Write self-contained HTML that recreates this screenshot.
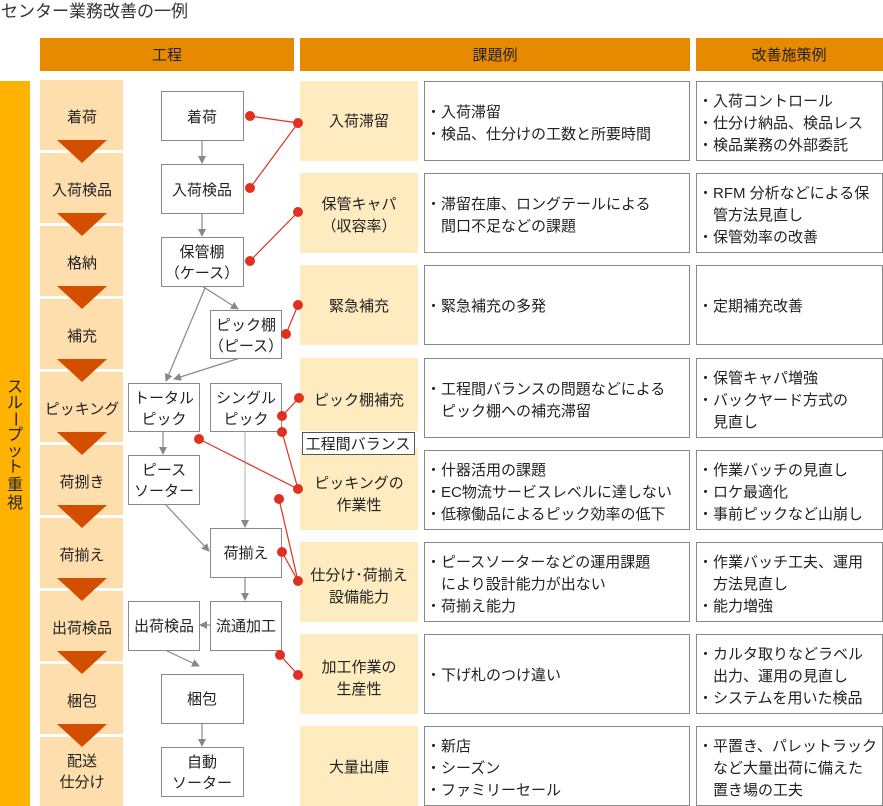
<!DOCTYPE html>
<html><head><meta charset="utf-8"><style>
html,body{margin:0;padding:0;background:#fff;}
svg{display:block;font-family:"Liberation Sans","Noto Sans CJK JP",sans-serif;}
</style></head><body>
<svg width="883" height="806" viewBox="0 0 883 806" xmlns="http://www.w3.org/2000/svg">
<defs>
<marker id="ar" markerWidth="8" markerHeight="8" refX="7" refY="4" orient="auto" markerUnits="userSpaceOnUse"><path d="M0,0 L8,4 L0,8 z" fill="#888"/></marker>
</defs>
<text x="1" y="17" font-size="17" fill="#333">センター業務改善の一例</text>
<!-- headers -->
<rect x="40" y="38" width="254" height="33" fill="#E88A00"/>
<rect x="300" y="38" width="390" height="33" fill="#E88A00"/>
<rect x="696" y="38" width="187" height="33" fill="#E88A00"/>
<g font-size="15" fill="#222" text-anchor="middle">
<text x="167" y="60">工程</text><text x="495" y="60">課題例</text><text x="789" y="60">改善施策例</text>
</g>
<!-- left bar -->
<rect x="0" y="81" width="30" height="725" fill="#FFB300"/>
<g font-size="16" fill="#222" text-anchor="middle">
<text x="15" y="392">ス</text><text x="15" y="408">ル</text><text x="15" y="424" transform="rotate(90 15 419)">ー</text><text x="15" y="440">プ</text><text x="15" y="456">ッ</text><text x="15" y="472">ト</text><text x="15" y="490">重</text><text x="15" y="508">視</text>
</g>
<!-- process cells -->
<g fill="#FFDEAE">
<rect x="40" y="80" width="83" height="70"/><rect x="40" y="153" width="83" height="70"/><rect x="40" y="226" width="83" height="70"/><rect x="40" y="299" width="83" height="70"/><rect x="40" y="372" width="83" height="70"/><rect x="40" y="445" width="83" height="70"/><rect x="40" y="518" width="83" height="70"/><rect x="40" y="591" width="83" height="70"/><rect x="40" y="664" width="83" height="70"/><rect x="40" y="737" width="83" height="69"/>
</g>
<g fill="#D44E00">
<path d="M57,140 L107,140 L82,163 z"/><path d="M57,213 L107,213 L82,236 z"/><path d="M57,286 L107,286 L82,309 z"/><path d="M57,359 L107,359 L82,382 z"/><path d="M57,432 L107,432 L82,455 z"/><path d="M57,505 L107,505 L82,528 z"/><path d="M57,578 L107,578 L82,601 z"/><path d="M57,651 L107,651 L82,674 z"/><path d="M57,724 L107,724 L82,747 z"/>
</g>
<g font-size="15" fill="#222" text-anchor="middle">
<text x="82" y="122">着荷</text><text x="82" y="195">入荷検品</text><text x="82" y="268">格納</text><text x="82" y="341">補充</text><text x="82" y="414">ピッキング</text><text x="82" y="487">荷捌き</text><text x="82" y="560">荷揃え</text><text x="82" y="633">出荷検品</text><text x="82" y="706">梱包</text><text x="82" y="766">配送</text><text x="82" y="787">仕分け</text>
</g>
<!-- grey connectors -->
<g stroke="#888" stroke-width="1.2" fill="none" marker-end="url(#ar)">
<line x1="202" y1="140" x2="202" y2="163"/>
<line x1="202" y1="213" x2="202" y2="236"/>
<line x1="202" y1="286" x2="238" y2="309"/>
<line x1="205" y1="288" x2="166" y2="381"/>
<line x1="240" y1="358" x2="174" y2="379"/>
<line x1="163" y1="431" x2="163" y2="454"/>
<line x1="245" y1="431" x2="245" y2="527" stroke="#bbb"/>
<line x1="165" y1="504" x2="209" y2="551"/>
<line x1="245" y1="577" x2="245" y2="600"/>
<line x1="210" y1="625" x2="200" y2="625"/>
<line x1="165" y1="650" x2="199" y2="666"/>
<line x1="202" y1="723" x2="202" y2="746"/>
</g>
<!-- flow boxes -->
<g fill="#fff" stroke="#888" stroke-width="1">
<rect x="161.5" y="91.5" width="82" height="49"/><rect x="161.5" y="164.5" width="82" height="49"/><rect x="161.5" y="237.5" width="82" height="49"/>
<rect x="210.5" y="310.5" width="71" height="48"/><rect x="128.5" y="383.5" width="71" height="48"/><rect x="210.5" y="383.5" width="71" height="48"/>
<rect x="128.5" y="455.5" width="71" height="49"/><rect x="210.5" y="528.5" width="71" height="49"/><rect x="128.5" y="601.5" width="71" height="49"/><rect x="210.5" y="601.5" width="71" height="49"/>
<rect x="161.5" y="674.5" width="82" height="49"/><rect x="161.5" y="747.5" width="82" height="49"/>
</g>
<g font-size="15" fill="#222" text-anchor="middle">
<text x="202" y="122">着荷</text><text x="202" y="195">入荷検品</text>
<text x="202" y="257">保管棚</text><text x="202" y="278">（ケース）</text>
<text x="246" y="330">ピック棚</text><text x="246" y="351">（ピース）</text>
<text x="164" y="403">トータル</text><text x="164" y="424">ピック</text>
<text x="246" y="403">シングル</text><text x="246" y="424">ピック</text>
<text x="164" y="475">ピース</text><text x="164" y="496">ソーター</text>
<text x="246" y="558">荷揃え</text><text x="164" y="631">出荷検品</text><text x="246" y="631">流通加工</text>
<text x="202" y="704">梱包</text><text x="202" y="767">自動</text><text x="202" y="788">ソーター</text>
</g>
<!-- issue columns -->
<g fill="#FFEBC0">
<rect x="300" y="81" width="118" height="80"/><rect x="300" y="173" width="118" height="80"/><rect x="300" y="265" width="118" height="80"/><rect x="300" y="358" width="118" height="73"/><rect x="300" y="449" width="118" height="81"/><rect x="300" y="542" width="118" height="80"/><rect x="300" y="634" width="118" height="80"/><rect x="300" y="726" width="118" height="80"/>
</g>
<g fill="#fff" stroke="#888" stroke-width="1">
<rect x="424.5" y="81.5" width="265" height="79"/><rect x="424.5" y="173.5" width="265" height="79"/><rect x="424.5" y="265.5" width="265" height="79"/><rect x="424.5" y="358.5" width="265" height="79"/><rect x="424.5" y="450.5" width="265" height="79"/><rect x="424.5" y="542.5" width="265" height="79"/><rect x="424.5" y="634.5" width="265" height="79"/><rect x="424.5" y="726.5" width="265" height="79"/>
<rect x="696.5" y="81.5" width="186" height="79"/><rect x="696.5" y="173.5" width="186" height="79"/><rect x="696.5" y="265.5" width="186" height="79"/><rect x="696.5" y="358.5" width="186" height="79"/><rect x="696.5" y="450.5" width="186" height="79"/><rect x="696.5" y="542.5" width="186" height="79"/><rect x="696.5" y="634.5" width="186" height="79"/><rect x="696.5" y="726.5" width="186" height="79"/>
<rect x="302.5" y="432.5" width="112" height="22" stroke="#555"/>
</g>
<g font-size="15" fill="#222" text-anchor="middle">
<text x="359" y="126">入荷滞留</text>
<text x="359" y="209">保管キャパ</text><text x="359" y="231">（収容率）</text>
<text x="359" y="311">緊急補充</text>
<text x="359" y="405">ピック棚補充</text>
<text x="358" y="449">工程間バランス</text>
<text x="359" y="488">ピッキングの</text><text x="359" y="510">作業性</text>
<text x="359" y="580">仕分け･荷揃え</text><text x="359" y="602">設備能力</text>
<text x="359" y="672">加工作業の</text><text x="359" y="694">生産性</text>
<text x="359" y="772">大量出庫</text>
</g>
<g font-size="15" fill="#222">
<text x="426" y="117">・入荷滞留</text><text x="426" y="139">・検品、仕分けの工数と所要時間</text>
<text x="426" y="209">・滞留在庫、ロングテールによる</text><text x="441" y="231">間口不足などの課題</text>
<text x="426" y="311">・緊急補充の多発</text>
<text x="426" y="394">・工程間バランスの問題などによる</text><text x="441" y="416">ピック棚への補充滞留</text>
<text x="426" y="475">・什器活用の課題</text><text x="426" y="497">・EC物流サービスレベルに達しない</text><text x="426" y="519">・低稼働品によるピック効率の低下</text>
<text x="426" y="567">・ピースソーターなどの運用課題</text><text x="441" y="589">により設計能力が出ない</text><text x="426" y="611">・荷揃え能力</text>
<text x="426" y="680">・下げ札のつけ違い</text>
<text x="426" y="751">・新店</text><text x="426" y="773">・シーズン</text><text x="426" y="795">・ファミリーセール</text>
<text x="698" y="106">・入荷コントロール</text><text x="698" y="128">・仕分け納品、検品レス</text><text x="698" y="150">・検品業務の外部委託</text>
<text x="698" y="198">・RFM 分析などによる保</text><text x="713" y="220">管方法見直し</text><text x="698" y="242">・保管効率の改善</text>
<text x="698" y="311">・定期補充改善</text>
<text x="698" y="383">・保管キャパ増強</text><text x="698" y="405">・バックヤード方式の</text><text x="713" y="427">見直し</text>
<text x="698" y="475">・作業バッチの見直し</text><text x="698" y="497">・ロケ最適化</text><text x="698" y="519">・事前ピックなど山崩し</text>
<text x="698" y="567">・作業バッチ工夫、運用</text><text x="713" y="589">方法見直し</text><text x="698" y="611">・能力増強</text>
<text x="698" y="659">・カルタ取りなどラベル</text><text x="713" y="681">出力、運用の見直し</text><text x="698" y="703">・システムを用いた検品</text>
<text x="698" y="751">・平置き、パレットラック</text><text x="713" y="773">など大量出荷に備えた</text><text x="713" y="795">置き場の工夫</text>
</g>
<!-- red connectors -->
<g stroke="#E03020" stroke-width="1.2">
<line x1="250" y1="116" x2="298" y2="123"/><line x1="250" y1="188" x2="298" y2="123"/>
<line x1="250" y1="261" x2="298" y2="212"/><line x1="286" y1="334" x2="298" y2="305"/>
<line x1="282" y1="416" x2="299" y2="398"/>
<line x1="282" y1="432" x2="298" y2="489"/><line x1="199" y1="439" x2="298" y2="489"/>
<line x1="279" y1="499" x2="298" y2="581"/><line x1="282" y1="552" x2="298" y2="581"/>
<line x1="280" y1="655" x2="298" y2="675"/>
</g>
<g fill="#E03020">
<circle cx="250" cy="116" r="5"/><circle cx="298" cy="123" r="5"/><circle cx="250" cy="188" r="5"/>
<circle cx="250" cy="261" r="5"/><circle cx="298" cy="212" r="5"/>
<circle cx="286" cy="334" r="5"/><circle cx="298" cy="305" r="5"/>
<circle cx="282" cy="416" r="5"/><circle cx="299" cy="398" r="5"/>
<circle cx="282" cy="432" r="5"/><circle cx="199" cy="439" r="5"/><circle cx="298" cy="489" r="5"/>
<circle cx="279" cy="499" r="5"/><circle cx="282" cy="552" r="5"/><circle cx="298" cy="581" r="5"/>
<circle cx="280" cy="655" r="5"/><circle cx="298" cy="675" r="5"/>
</g>
</svg>
</body></html>
